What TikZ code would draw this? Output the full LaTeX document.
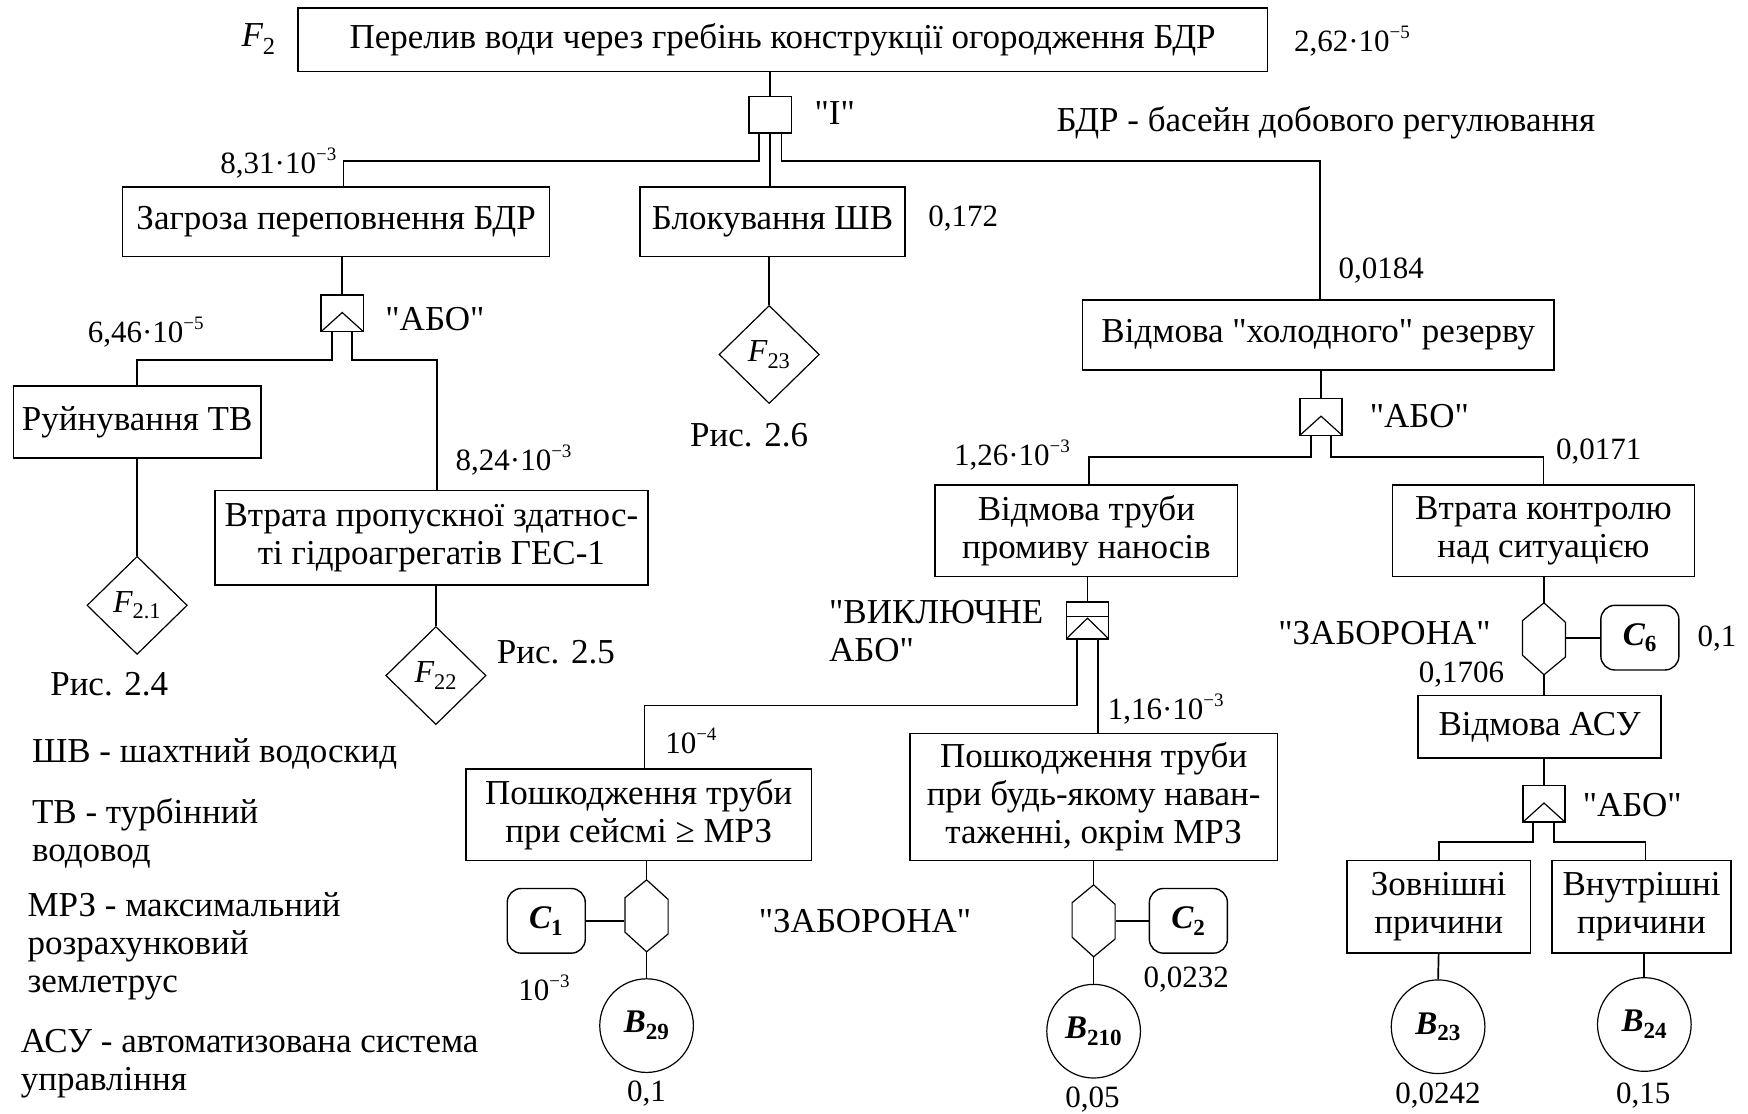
\documentclass[tikz,border=0pt]{standalone}
\usepackage{fontspec}
\setmainfont{Liberation Serif}
\usetikzlibrary{shapes.geometric,calc}

% hexagonal inhibit gate: name, centre
\newcommand\inhibgate[2]{%
  \node[minimum width=38.6*1.1148pt, minimum height=63*1.1148pt] (#1) at (#2) {};
  \draw[thinline] (#1.north) -- ++(-19.3,16) -- ++(0,31) -- (#1.south)
    -- ++(19.3,-16) -- ++(0,-31) -- cycle;
}
% straight double quote, set as a glyph so no font mapping curls it
\newcommand\sq{\XeTeXglyph\XeTeXcharglyph"22\relax}
\newcommand\supr[1]{\raisebox{0.42em}{\fontsize{19}{19}\selectfont #1}}
\newcommand\pw[2]{#1·10\supr{−#2}}
\newcommand\bev[2]{{\bfseries\itshape #1}\textsubscript{\bfseries #2}}

\begin{document}
\begin{tikzpicture}[x=1.1148pt,y=-1.1148pt,
  every node/.style={font=\fontsize{35}{38}\selectfont, inner sep=0pt},
  line width=1.7pt,
  thinline/.style={line width=1.2pt},
  box/.style 2 args={draw, line width=1.7pt, align=center,
    minimum width=#1*1.1148pt, minimum height=#2*1.1148pt},
  gatebox/.style={draw, line width=1.6pt,
    minimum width=38*1.1148pt, minimum height=33*1.1148pt},
  orgate/.style={gatebox, path picture={
    \draw[line width=1.2pt] (path picture bounding box.south west)
      -- ($(path picture bounding box.south)!0.52!(path picture bounding box.north)$)
      -- (path picture bounding box.south east);}},
  xorgate/.style={gatebox, path picture={
    \draw[line width=1.4pt] ($(path picture bounding box.south west)!0.6!(path picture bounding box.north west)$)
      -- ($(path picture bounding box.south east)!0.6!(path picture bounding box.north east)$);
    \draw[line width=1.2pt] (path picture bounding box.south west)
      -- ($(path picture bounding box.south)!0.56!(path picture bounding box.north)$)
      -- (path picture bounding box.south east);}},
  tdiam/.style={draw, diamond, thinline, minimum width=90*1.1148pt,
    minimum height=88*1.1148pt, font=\fontsize{32}{36}\selectfont},
  basic/.style={draw, circle, thinline, minimum size=84*1.1148pt,
    font=\fontsize{33}{36}\selectfont},
  cond/.style={draw, rounded corners=14pt, line width=1.4pt,
    minimum width=70*1.1148pt, minimum height=58*1.1148pt,
    font=\fontsize{33}{36}\selectfont},
  lbl/.style={anchor=west},
  lblc/.style={anchor=center},
  num/.style={font=\fontsize{31}{36}\selectfont}
]
\fill[white] (0,0) rectangle (1568,998.4);
\useasboundingbox (0,0) rectangle (1568,998.4);

% ---------- events ----------
\node[box={870}{57}] (top) at (702,35.5) {Перелив води через гребінь конструкції огородження БДР};
\node[box={383}{62}] (zag) at (301.5,199) {Загроза переповнення БДР};
\node[box={238}{62}] (blk) at (693,199) {Блокування ШВ};
\node[box={423}{63}] (hol) at (1182.5,300.5) {Відмова \sq холодного\sq{} резерву};
\node[box={222}{65}] (ruin) at (123,378.5) {Руйнування ТВ};
\node[box={388}{85}] (vtr) at (387,482.5) {Втрата пропускної здатнос-\\ті гідроагрегатів ГЕС-1};
\node[box={271}{82}] (vtp) at (974.5,476) {Відмова труби\\промиву наносів};
\node[box={271}{82}] (vk) at (1384.5,476) {Втрата контролю\\над ситуацією};
\node[box={310}{82}] (ps) at (573,731) {Пошкодження труби\\при сейсмі ≥ МРЗ};
\node[box={330}{114}] (pb) at (981,715) {Пошкодження труби\\при будь-якому наван-\\таженні, окрім МРЗ};
\node[box={218}{56}] (asu) at (1381,652) {Відмова АСУ};
\node[box={165}{83}] (zov) at (1290.5,813.5) {Зовнішні\\причини};
\node[box={161}{83}] (vnu) at (1472.5,813.5) {Внутрішні\\причини};

% ---------- gates ----------
\node[gatebox] (andg) at (691,103) {};
\node[orgate] (or1) at (307,281) {};
\node[orgate] (or2) at (1185,374) {};
\node[xorgate] (xor) at (975.5,556.5) {};
\node[orgate] (or3) at (1385,721) {};
\inhibgate{hex1}{580,821.5}
\inhibgate{hex2}{981,826}
\inhibgate{hex3}{1385,573}

% ---------- transfers, conditions, basic events ----------
\node[tdiam] (f21) at (123,543) {{\itshape F}\textsubscript{2.1}};
\node[tdiam] (f22) at (391,606) {{\itshape F}\textsubscript{22}};
\node[tdiam] (f23) at (690,318) {{\itshape F}\textsubscript{23}};
\node[cond] (c1) at (490,826) {\bev{C}{1}};
\node[cond] (c2) at (1066,826) {\bev{C}{2}};
\node[cond] (c6) at (1471,572) {\bev{C}{6}};
\node[basic] (b29) at (580,920) {\bev{B}{29}};
\node[basic] (b210) at (981,925) {\bev{B}{210}};
\node[basic] (b23) at (1290,921) {\bev{B}{23}};
\node[basic] (b24) at (1475,919) {\bev{B}{24}};

% ---------- connectors ----------
\draw (top.south -| andg.north) -- (andg.north);
\draw ($(andg.south)+(-10,0)$) -- ++(0,24) -| ($(zag.north)+(6.5,0)$);
\draw (andg.south) -- (andg.south |- blk.north);
\draw ($(andg.south)+(10,0)$) -- ++(0,24) -| ($(hol.north)+(1.5,0)$);

\draw (zag.south -| or1.north) -- (or1.north);
\draw ($(or1.south)+(-9,0)$) -- ++(0,25) -| (ruin.north);
\draw ($(or1.south)+(9,0)$) -- ++(0,25) -| ($(vtr.north)+(5,0)$);
\draw (ruin.south) -- (f21.north);
\draw (f22.north |- vtr.south) -- (f22.north);
\draw (f23.north |- blk.south) -- (f23.north);

\draw (hol.south -| or2.north) -- (or2.north);
\draw ($(or2.south)+(-9,0)$) -- ++(0,19) -| ($(vtp.north)+(2.5,0)$);
\draw ($(or2.south)+(9,0)$) -- ++(0,19) -| (vk.north);

\draw (vtp.south -| xor.north) -- (xor.north);
\coordinate (xl) at ($(xor.south)+(-9.5,0)$);
\coordinate (xr) at ($(xor.south)+(9.5,0)$);
\draw (xl) -- ++(0,59) -| ($(ps.north)+(5,0)$);
\draw (xr) -- (xr |- pb.north);

\draw (hex1.north |- ps.south) -- (hex1.north);
\draw (hex1.south) -- (b29.north);
\draw (c1.east) -- (c1.east -| hex1.west);
\draw (hex2.north |- pb.south) -- (hex2.north);
\draw (hex2.south) -- (b210.north);
\draw (hex2.east |- c2.west) -- (c2.west);

\draw (hex3.north |- vk.south) -- (hex3.north);
\draw (hex3.south) -- (hex3.south |- asu.north);
\draw (hex3.east |- c6.west) -- (c6.west);
\draw (asu.south -| or3.north) -- (or3.north);
\draw ($(or3.south)+(-10,0)$) -- ++(0,17) -| (zov.north);
\draw ($(or3.south)+(9,0)$) -- ++(0,17) -| ($(vnu.north)+(3.5,0)$);
\draw (zov.south) -- (b23.north);
\draw (b24.north |- vnu.south) -- (b24.north);

% ---------- labels ----------
\node[lblc] (tF) at (232,35) {{\itshape F}\textsubscript{2}};
\node[lbl,num] (p0) at (1160,37) {\pw{2,62}{5}};
\node[lbl] (gI) at (730,101) {\sq I\sq};
\node[lbl] (nb) at (947,110) {БДР - басейн добового регулювання};
\node[lbl,num] (p1) at (197,146) {\pw{8,31}{3}};
\node[lbl,num] (p2) at (832,196) {0,172};
\node[lbl,num] (p3) at (1200,243) {0,0184};
\node[lbl] (g1) at (345,286) {\sq АБО\sq};
\node[lbl,num] (p4) at (78,298) {\pw{6,46}{5}};
\node[lbl,num] (p5) at (408,413) {\pw{8,24}{3}};
\node[lblc] (r4) at (98,614) {Рис. 2.4};
\node[lbl] (r5) at (445,585) {Рис. 2.5};
\node[lblc] (r6) at (672,390) {Рис. 2.6};
\node[lbl] (g2) at (1228,373) {\sq АБО\sq};
\node[lbl,num] (p6) at (855,408) {\pw{1,26}{3}};
\node[lbl,num] (p7) at (1395,405) {0,0171};
\node[lbl, align=left] (gx) at (743,566.5) {\sq ВИКЛЮЧНЕ\\АБО\sq};
\node[lbl,num] (p8) at (596,665) {10\supr{−4}};
\node[lbl,num] (p9) at (993,636) {\pw{1,16}{3}};
\node[lbl] (z1) at (680,826) {\sq ЗАБОРОНА\sq};
\node[lblc,num] (p10) at (488,886) {10\supr{−3}};
\node[lblc,num] (p11) at (580,981) {0,1};
\node[lblc,num] (p12) at (1064,879) {0,0232};
\node[lblc,num] (p13) at (980,986) {0,05};
\node[lbl] (z2) at (1146,568) {\sq ЗАБОРОНА\sq};
\node[lbl,num] (p14) at (1272,605) {0,1706};
\node[lbl,num] (p15) at (1522,573) {0,1};
\node[lbl] (g3) at (1419,722) {\sq АБО\sq};
\node[lblc,num] (p16) at (1290,983) {0,0242};
\node[lblc,num] (p17) at (1474,983) {0,15};

% ---------- abbreviations ----------
\node[lbl] (a1) at (28,676) {ШВ - шахтний водоскид};
\node[lbl, align=left] (a2) at (28,747.5) {ТВ - турбінний\\водовод};
\node[lbl, align=left] (a3) at (24,849) {МРЗ - максимальний\\розрахунковий\\землетрус};
\node[lbl, align=left] (a4) at (18,954) {АСУ - автоматизована система\\управління};
\end{tikzpicture}
\end{document}
